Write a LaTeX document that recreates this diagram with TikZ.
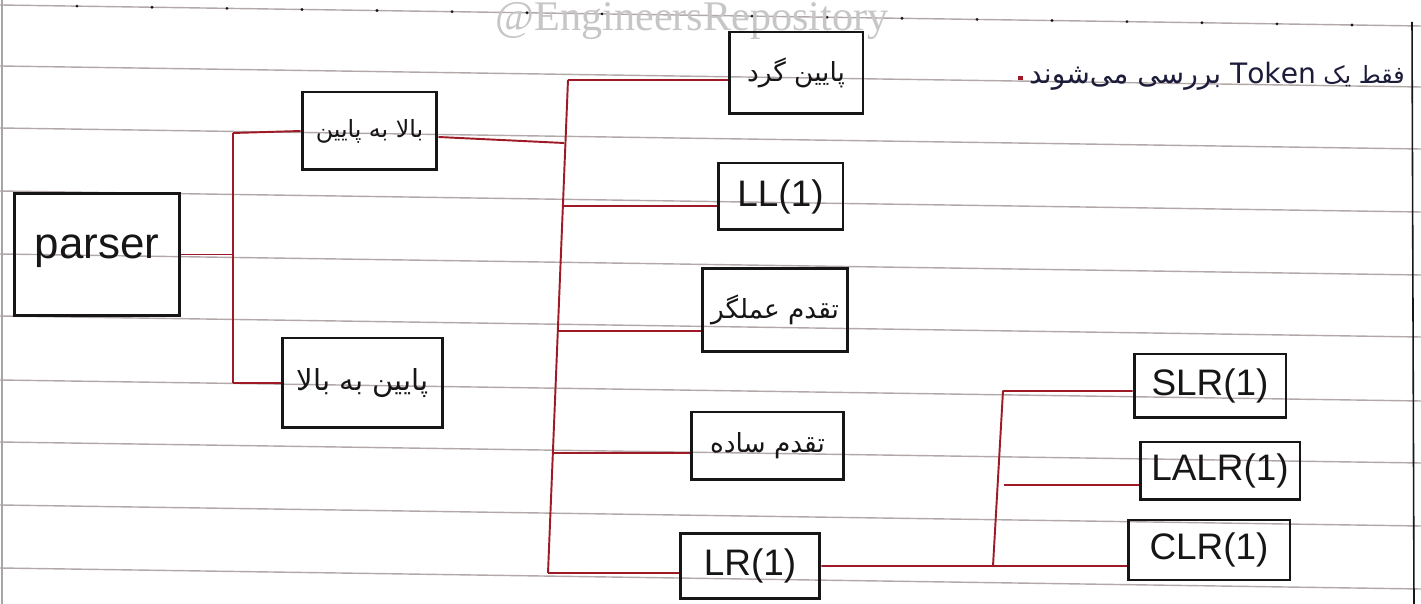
\documentclass[tikz,border=0pt]{standalone}
\usepackage{fontspec}
\setmainfont{Liberation Sans}
\newfontfamily\fa[Script=Arabic]{DejaVu Sans}
\newfontfamily\wmfont{Liberation Serif}
\TeXXeTstate=1
\definecolor{wirered}{RGB}{158,26,38}
\definecolor{rulegray}{RGB}{178,168,168}
\definecolor{ink}{RGB}{22,22,22}
\definecolor{pen}{RGB}{28,28,58}
\begin{document}
\begin{tikzpicture}[x=0.02cm,y=-0.02cm,
  box/.style={draw=ink, line width=1.7pt, inner sep=0pt, text=ink,
              font=\fontsize{21}{24}\selectfont},
  fabox/.style={box, font=\fa\fontsize{15}{18}\selectfont},
  wire/.style={draw=wirered, line width=1.1pt, line join=round},
  ruling/.style={draw=rulegray, line width=0.8pt}]
% paper
\fill[white] (0,0) rectangle (1421,604);
\useasboundingbox (0,0) rectangle (1421,604);
\foreach \y in {5,66,128,191,254,316,380,442,505,568}
  \draw[ruling] (0,\y) -- (1421,\y+21);
\foreach \k in {0,...,17}
  \fill[ink] ({77+75*\k},{5+0.014778*(77+75*\k)}) circle (0.9pt);
\draw[gray!70, line width=0.6pt] (2,0) -- (2,604);
\draw[ink, line width=0.9pt] (1412,22) -- (1414,604);
% watermark
\node[font=\wmfont\fontsize{24}{28}\selectfont, text=gray!45] (wm) at (692,21) {@EngineersRepository};

% boxes
\node[box, minimum width=3.32cm, minimum height=2.46cm, font=\fontsize{25}{28}\selectfont] (parser) at (97,254.5) {\raisebox{9pt}{parser}};
\node[fabox, minimum width=2.70cm, minimum height=1.56cm, font=\fa\fontsize{13.5}{16}\selectfont] (topdown) at (369.5,131) {\beginR بالا به پایین\endR};
\node[fabox, minimum width=3.22cm, minimum height=1.80cm, font=\fa\fontsize{16.5}{19}\selectfont] (bottomup) at (362.5,383) {\beginR پایین به بالا\endR};
\node[fabox, minimum width=2.68cm, minimum height=1.64cm] (rd) at (796,73) {\beginR پایین گرد\endR};
\node[box, minimum width=2.50cm, minimum height=1.34cm] (ll1) at (780.5,196.5) {LL(1)};
\node[fabox, minimum width=2.92cm, minimum height=1.66cm] (opp) at (775,310) {\beginR تقدم عملگر\endR};
\node[fabox, minimum width=3.04cm, minimum height=1.36cm] (simp) at (767.5,446) {\beginR تقدم ساده\endR};
\node[box, minimum width=2.80cm, minimum height=1.30cm] (lr1) at (750,566) {LR(1)};
\node[box, minimum width=3.04cm, minimum height=1.28cm] (slr) at (1210,386) {SLR(1)};
\node[box, minimum width=3.20cm, minimum height=1.16cm] (lalr) at (1220,471) {LALR(1)};
\node[box, minimum width=3.24cm, minimum height=1.20cm] (clr) at (1209,550) {CLR(1)};

% note, closed by a red full stop
\node[font=\fa\fontsize{13.5}{16}\selectfont, text=pen, anchor=base east, inner sep=0pt] (note) at (1405,84)
  {\beginR فقط یک \beginL\fontsize{16}{19}\selectfont Token\endL{} بررسی می‌شوند\endR};
\fill[wirered] ([xshift=-6pt,yshift=2pt]note.base west) rectangle ++(2.6pt,2.6pt);

% parser fork
\coordinate (t1) at (233,133);
\coordinate (t2) at (233,383);
\draw[wire] (parser.east) -- (parser.east -| t1);
\draw[wire] (t1) -- (t2);
\draw[wire] (t1) -- (topdown.west);
\draw[wire] (t2) -- (bottomup.west);

% main fork
\coordinate (v1) at (568,80);
\coordinate (v2) at (548,573);
\coordinate (vtd) at (564,143);
\coordinate (vll) at (563,206);
\coordinate (vop) at (558,331);
\coordinate (vsi) at (553,453);
\draw[wire] (v1) -- (v2);
\draw[wire] ([yshift=-0.12cm]topdown.east) -- (vtd);
\draw[wire] (v1) -- (rd.west |- v1);
\draw[wire] (vll) -- (ll1.west |- vll);
\draw[wire] (vop) -- (opp.west |- vop);
\draw[wire] (vsi) -- (simp.west |- vsi);
\draw[wire] (v2) -- (lr1.west |- v2);

% LR(1) fork
\coordinate (w1) at (1003,391);
\coordinate (w2) at (993,566);
\coordinate (wla) at (1004,485);
\draw[wire] (lr1.east) -- (w2) -- (w1) -- (slr.west |- w1);
\draw[wire] (wla) -- (lalr.west |- wla);
\draw[wire] (w2) -- (clr.west |- w2);
\end{tikzpicture}
\end{document}
